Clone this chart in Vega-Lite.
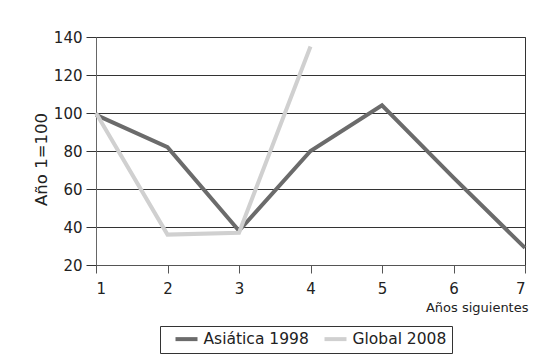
{
  "$schema": "https://vega.github.io/schema/vega-lite/v6.json",
  "width": 429,
  "height": 228,
  "autosize": {"type": "none"},
  "padding": {"left": 96, "top": 37, "right": 27, "bottom": 98},
  "background": "white",
  "config": {
    "font": "DejaVu Sans",
    "view": {"stroke": "#333", "strokeWidth": 1}
  },
  "data": {
    "values": [
      {"anio": 1, "valor": 99, "serie": "Asiática 1998"},
      {"anio": 2, "valor": 82, "serie": "Asiática 1998"},
      {"anio": 3, "valor": 38, "serie": "Asiática 1998"},
      {"anio": 4, "valor": 80, "serie": "Asiática 1998"},
      {"anio": 5, "valor": 104, "serie": "Asiática 1998"},
      {"anio": 6, "valor": 66, "serie": "Asiática 1998"},
      {"anio": 7, "valor": 29, "serie": "Asiática 1998"},
      {"anio": 1, "valor": 100, "serie": "Global 2008"},
      {"anio": 2, "valor": 36, "serie": "Global 2008"},
      {"anio": 3, "valor": 37, "serie": "Global 2008"},
      {"anio": 4, "valor": 135, "serie": "Global 2008"}
    ]
  },
  "mark": {"type": "line", "strokeWidth": 4},
  "encoding": {
    "x": {
      "field": "anio",
      "type": "quantitative",
      "scale": {"domain": [1, 7], "nice": false, "zero": false},
      "axis": {
        "values": [1, 2, 3, 4, 5, 6, 7],
        "format": "d",
        "title": "Años siguientes",
        "titleFontSize": 13,
        "titleFontWeight": "normal",
        "titleColor": "#222",
        "titleAnchor": "end",
        "titleAlign": "right",
        "titleX": 432,
        "titleY": 42,
        "titleBaseline": "middle",
        "grid": false,
        "tickSize": 8,
        "labelPadding": 8,
        "labelFontSize": 15,
        "labelColor": "#222",
        "domainColor": "#555",
        "tickColor": "#555"
      }
    },
    "y": {
      "field": "valor",
      "type": "quantitative",
      "scale": {"domain": [20, 140], "nice": false, "zero": false},
      "axis": {
        "values": [20, 40, 60, 80, 100, 120, 140],
        "title": "Año 1=100",
        "titleFontSize": 16.5,
        "titleFontWeight": "normal",
        "titleColor": "#222",
        "titleX": -55,
        "titleY": 122,
        "titleBaseline": "middle",
        "grid": true,
        "gridColor": "#333",
        "gridOpacity": 1,
        "tickSize": 10,
        "tickColor": "#333",
        "labelPadding": 4,
        "labelFontSize": 15,
        "labelColor": "#222",
        "domainColor": "#666"
      }
    },
    "color": {
      "field": "serie",
      "type": "nominal",
      "scale": {"domain": ["Asiática 1998", "Global 2008"], "range": ["#6b6b6b", "#d0d0d0"]},
      "legend": {
        "orient": "none",
        "legendX": 64,
        "legendY": 289,
        "direction": "horizontal",
        "title": null,
        "strokeColor": "#333",
        "padding": 5,
        "symbolType": "M0.5,0H4.5",
        "symbolSize": 121,
        "symbolStrokeWidth": 4,
        "labelFontSize": 15.5,
        "labelColor": "#222",
        "labelOffset": 23,
        "columnPadding": 5
      }
    }
  }
}
